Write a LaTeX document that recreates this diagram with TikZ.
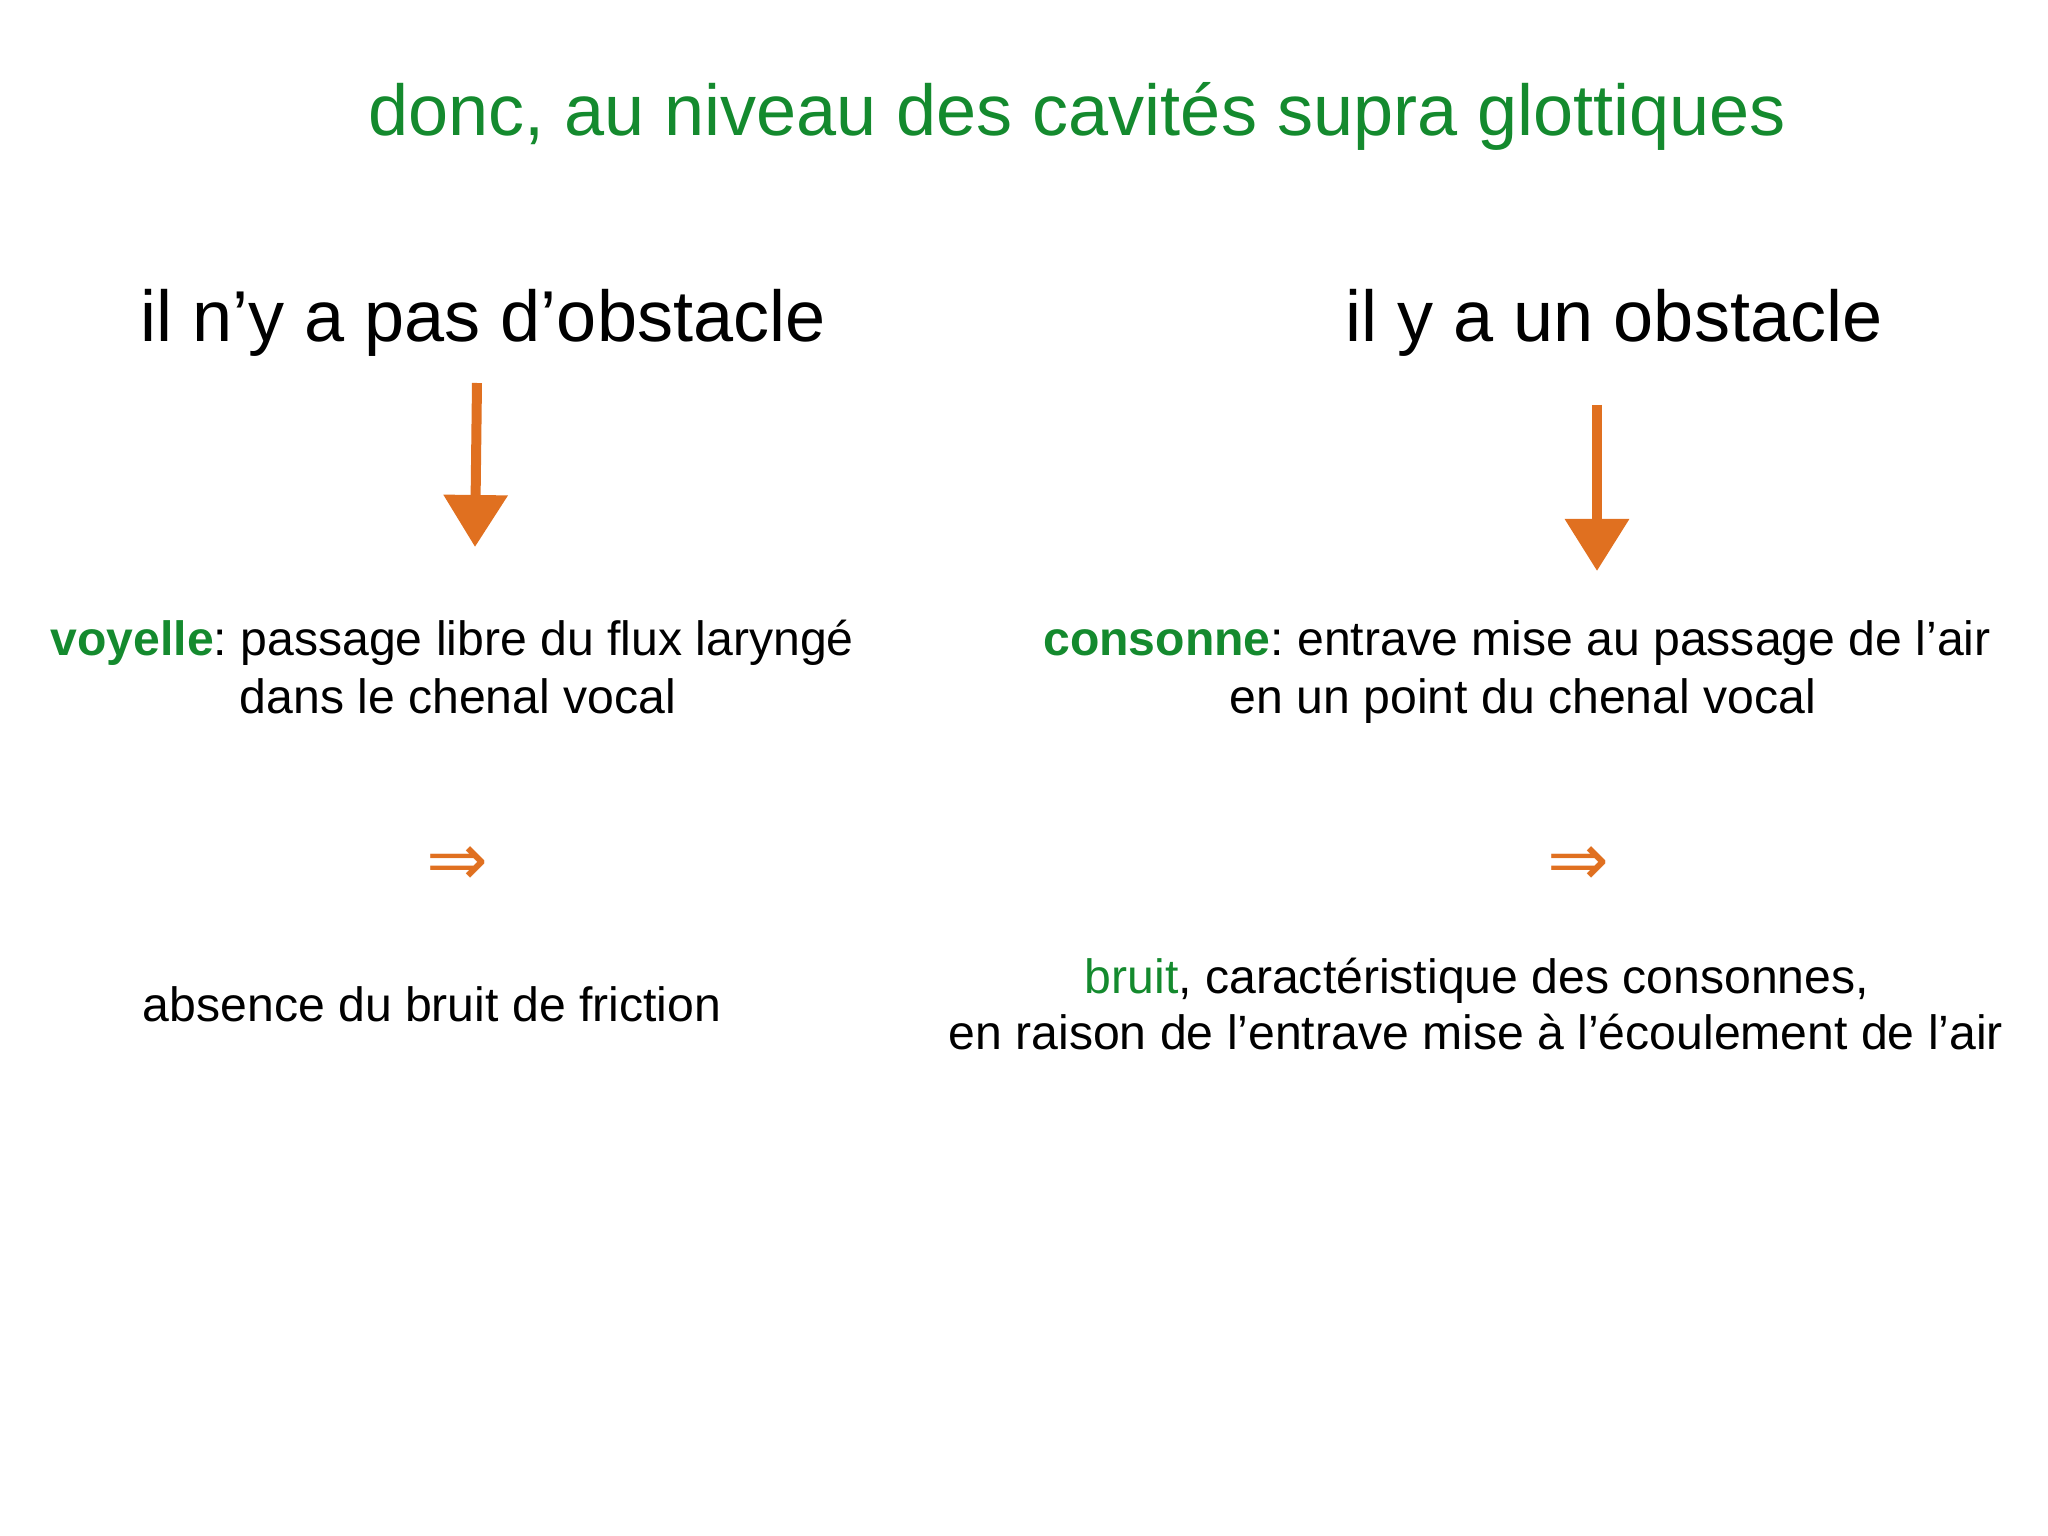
\documentclass[tikz,border=0pt]{standalone}
\usepackage{fontspec}
\setmainfont{Liberation Sans}
\newfontfamily\symfont{DejaVu Sans}
\usetikzlibrary{arrows.meta}
\frenchspacing
\definecolor{vert}{RGB}{20,138,46}
\definecolor{flamme}{RGB}{224,112,32}
\tikzset{
  titre/.style={text=vert, inner sep=0pt, anchor=base, font=\fontsize{20.5}{24}\selectfont},
  entete/.style={inner sep=0pt, anchor=base, font=\fontsize{20.5}{24}\selectfont},
  texte/.style={inner sep=0pt, anchor=base, font=\fontsize{13.7}{17}\selectfont},
  implique/.style={text=flamme, inner sep=0pt, font=\symfont\fontsize{21}{24}\selectfont},
  fleche/.style={draw=flamme, line width=1mm, -{Triangle[width=6.2mm,length=5.2mm]}}
}
\begin{document}
\begin{tikzpicture}
\useasboundingbox (0, 0) rectangle (20.48, -15.36);
\draw (10.77, -1.36) node[titre] (t) {donc, au niveau des cavités supra glottiques};

% pas d'obstacle
\draw (4.83, -3.42) node[entete] (g) {il n’y a pas d’obstacle};
\coordinate (ghaut) at (4.77, -3.83);
\coordinate (gbas) at (4.75, -5.47);
\draw[fleche] (ghaut) -- (gbas);
\draw (0.50, -6.56) node[texte, anchor=base west] (gv) {\textbf{\color{vert}voyelle}: passage libre du flux laryngé};
\draw (2.39, -7.13) node[texte, anchor=base west] (gvv) {dans le chenal vocal};
\draw (4.57, -8.66) node[implique] (gi) {⇒};
\draw (4.32, -10.21) node[texte] (gr) {absence du bruit de friction};

% obstacle
\draw (16.14, -3.42) node[entete] (d) {il y a un obstacle};
\coordinate (dhaut) at (15.97, -4.05);
\coordinate (dbas) at (15.97, -5.71);
\draw[fleche] (dhaut) -- (dbas);
\draw (15.17, -6.56) node[texte] (dc) {\textbf{\color{vert}consonne}: entrave mise au passage de l’air};
\draw (15.23, -7.13) node[texte] (dcc) {en un point du chenal vocal};
\draw (15.78, -8.66) node[implique] (di) {⇒};
\draw (14.77, -9.93) node[texte] (dr) {{\color{vert}bruit}, caractéristique des consonnes,};
\draw (14.76, -10.49) node[texte] (drr) {en raison de l’entrave mise à l’écoulement de l’air};
\end{tikzpicture}
\end{document}
